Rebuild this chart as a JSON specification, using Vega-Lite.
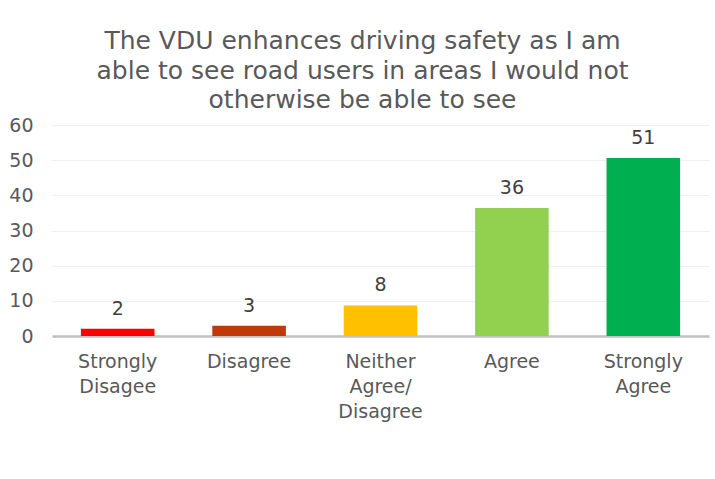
{
  "$schema": "https://vega.github.io/schema/vega-lite/v6.json",
  "autosize": "none",
  "width": 657,
  "height": 211,
  "padding": {"left": 52, "top": 125, "right": 6, "bottom": 143},
  "background": "white",
  "title": {
    "text": ["The VDU enhances driving safety as I am", "able to see road users in areas I would not", "otherwise be able to see"],
    "anchor": "middle",
    "frame": "group",
    "dx": -18,
    "offset": 3,
    "font": "DejaVu Sans",
    "fontSize": 25,
    "fontWeight": "normal",
    "color": "#595959",
    "lineHeight": 29.5
  },
  "data": {
    "values": [
      {"response": "Strongly|Disagee", "pct": 2.05, "label": "2", "color": "#FF0000"},
      {"response": "Disagree", "pct": 2.9, "label": "3", "color": "#C0390B"},
      {"response": "Neither|Agree/|Disagree", "pct": 8.7, "label": "8", "color": "#FFC000"},
      {"response": "Agree", "pct": 36.4, "label": "36", "color": "#92D050"},
      {"response": "Strongly|Agree", "pct": 50.6, "label": "51", "color": "#00B050"}
    ]
  },
  "encoding": {
    "x": {
      "field": "response",
      "type": "nominal",
      "sort": null,
      "scale": {"paddingInner": 0.44, "paddingOuter": 0.22},
      "axis": {
        "title": null,
        "labelAngle": 0,
        "labelExpr": "split(datum.value, '|')",
        "labelFont": "DejaVu Sans",
        "labelFontSize": 19,
        "labelColor": "#595959",
        "labelLineHeight": 25,
        "labelPadding": 16,
        "ticks": false,
        "domainColor": "#BFBFBF",
        "domainWidth": 2.5,
        "grid": false
      }
    },
    "y": {
      "field": "pct",
      "type": "quantitative",
      "scale": {"domain": [0, 60], "nice": false},
      "axis": {
        "title": null,
        "values": [0, 10, 20, 30, 40, 50, 60],
        "labelFont": "DejaVu Sans",
        "labelFontSize": 19,
        "labelColor": "#595959",
        "labelPadding": 19,
        "ticks": false,
        "domain": false,
        "gridColor": "#EFEFEF",
        "gridWidth": 1.2
      }
    }
  },
  "layer": [
    {
      "mark": {"type": "bar"},
      "encoding": {
        "color": {"field": "color", "type": "nominal", "scale": null}
      }
    },
    {
      "mark": {"type": "text", "baseline": "alphabetic", "dy": -14, "font": "DejaVu Sans", "fontSize": 19, "color": "#404040"},
      "encoding": {
        "text": {"field": "label", "type": "nominal"}
      }
    }
  ],
  "config": {"view": {"stroke": null}}
}
